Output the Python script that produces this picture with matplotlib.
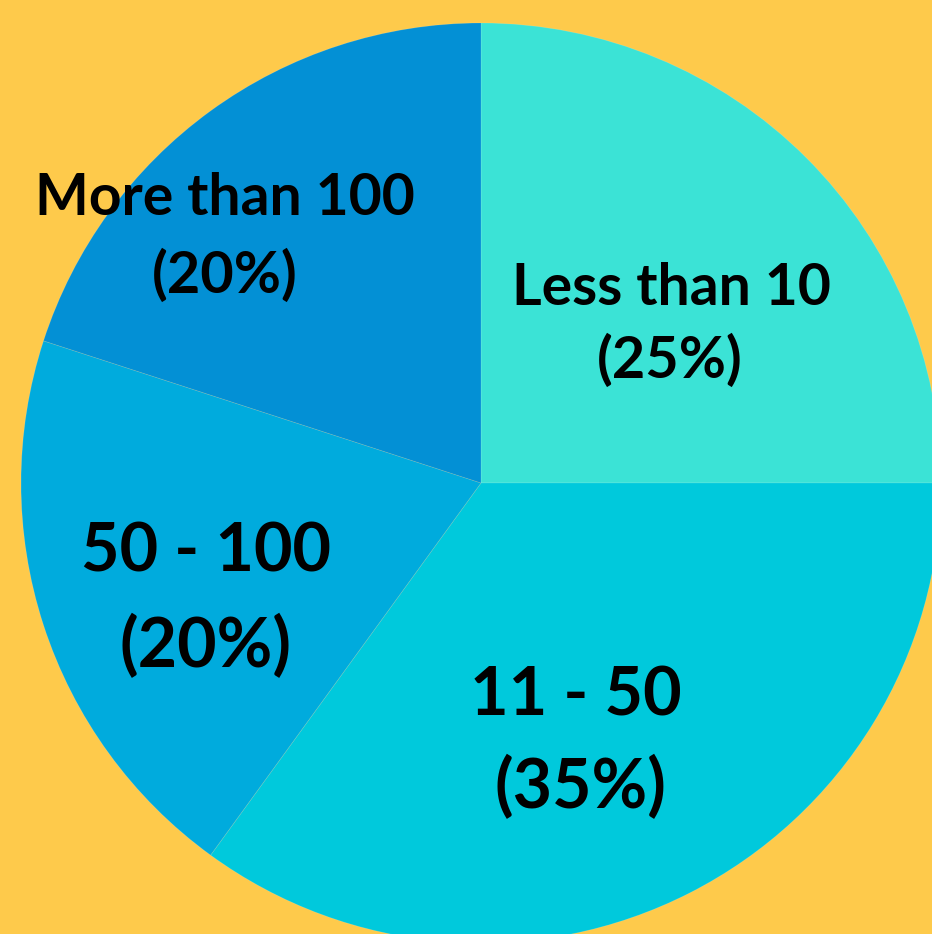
import matplotlib
matplotlib.use("Agg")
import matplotlib.pyplot as plt

categories = ["Less than 10", "11 - 50", "50 - 100", "More than 100"]
shares = [25, 35, 20, 20]
colors = ["#3BE3D6", "#00C9DC", "#00ABDD", "#0390D5"]
bg = "#FECA4B"

W, H = 932, 934
fig = plt.figure(figsize=(W / 100, H / 100), dpi=100, facecolor=bg)
ax = fig.add_axes([0, 0, 1, 1])
ax.set_facecolor(bg)

ax.pie(shares, colors=colors, startangle=90, counterclock=False,
       center=(481, H - 483), radius=460, frame=True,
       wedgeprops=dict(linewidth=0.6, edgecolor="#ffffff22"))
ax.set_xlim(0, W)
ax.set_ylim(0, H)
ax.set_aspect("equal")
ax.axis("off")

# label layout: (name line center x, baseline y px, size), (pct line x, baseline y)
layout = {
    "Less than 10": ((671, 305, 41), (670, 378, 41.5)),
    "11 - 50": ((576, 715, 48), (580, 808, 49)),
    "50 - 100": ((206, 572, 48), (206, 667, 49)),
    "More than 100": ((225, 215, 41), (225, 293, 41.5)),
}
for cat, s in zip(categories, shares):
    (x1, y1, fs), (x2, y2, fs2) = layout[cat]
    ax.text(x1, H - y1, cat, ha="center", va="baseline", fontsize=fs,
            fontfamily="Lato", fontweight="bold", color="black")
    ax.text(x2, H - y2, f"({s}%)", ha="center", va="baseline", fontsize=fs2,
            fontfamily="Lato", fontweight="bold", color="black")

fig.savefig("out.png", dpi=100, facecolor=bg)
